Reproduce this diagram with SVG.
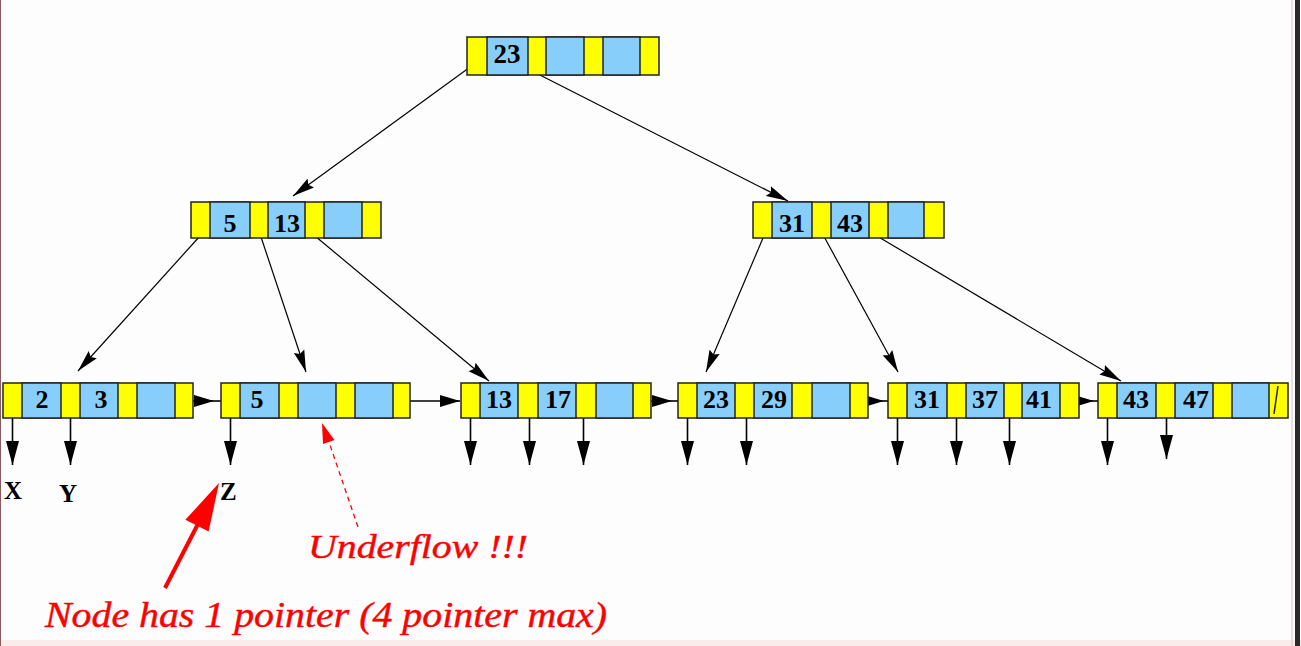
<svg xmlns="http://www.w3.org/2000/svg" width="1301" height="646" viewBox="0 0 1301 646">
<style>
.y{fill:#ffff00;stroke:#222;stroke-width:1.5}
.b{fill:#87cefa;stroke:#222;stroke-width:1.5}
.k{font-family:"Liberation Serif",serif;font-weight:bold;font-size:26px;text-anchor:middle;fill:#000}
.lbl{font-family:"Liberation Serif",serif;font-weight:bold;fill:#000}
.red{font-family:"Liberation Serif",serif;font-style:italic;fill:#ff0000;stroke:#ff0000;stroke-width:0.4}
.e{stroke:#000;stroke-width:1.2;fill:none}
.s{stroke:#000;stroke-width:1.6;fill:none}
</style>
<defs>
<marker id="ah" viewBox="0 0 22 12" refX="22" refY="6" markerWidth="22" markerHeight="12" markerUnits="userSpaceOnUse" orient="auto">
<path d="M0,0.5 L22,6 L0,11.5 L3,6 Z" fill="#000"/>
</marker>
<marker id="ad" viewBox="0 0 24 13" refX="24" refY="6.5" markerWidth="24" markerHeight="13" markerUnits="userSpaceOnUse" orient="auto">
<path d="M0,0 L24,6.5 L0,13 Z" fill="#000"/>
</marker>
<marker id="as" viewBox="0 0 20 14" refX="20" refY="7" markerWidth="20" markerHeight="14" markerUnits="userSpaceOnUse" orient="auto">
<path d="M0,1 L20,7 L0,13 Z" fill="#000"/>
</marker>
</defs>
<rect width="1301" height="646" fill="#fdfdfd"/>
<rect x="0" y="640" width="1301" height="6" fill="#fbecec"/>
<line x1="0.5" y1="0" x2="0.5" y2="646" stroke="#8a5a5a" stroke-width="1"/>
<line x1="1292" y1="0" x2="1292" y2="646" stroke="#d8c4c4" stroke-width="1"/>
<rect x="1295" y="0" width="5" height="646" fill="#2a2a2a"/>

<g id="connectors">
<line class="e" x1="477" y1="62" x2="293" y2="196" marker-end="url(#ah)"/>
<line class="e" x1="534" y1="72" x2="788" y2="201" marker-end="url(#ah)"/>
<line class="e" x1="200" y1="236" x2="78" y2="371" marker-end="url(#ah)"/>
<line class="e" x1="259" y1="231" x2="306" y2="372" marker-end="url(#ah)"/>
<line class="e" x1="315" y1="236" x2="489" y2="381" marker-end="url(#ah)"/>
<line class="e" x1="763" y1="238" x2="706" y2="372" marker-end="url(#ah)"/>
<line class="e" x1="821" y1="231" x2="898" y2="372" marker-end="url(#ah)"/>
<line class="e" x1="877" y1="236" x2="1121" y2="381" marker-end="url(#ah)"/>
<line class="s" x1="184" y1="401" x2="214" y2="401" marker-end="url(#as)"/>
<line class="s" x1="214" y1="401" x2="221" y2="401"/>
<line class="s" x1="402" y1="401" x2="460" y2="401" marker-end="url(#as)"/>
<line class="s" x1="642" y1="401" x2="672" y2="401" marker-end="url(#as)"/>
<line class="s" x1="672" y1="401" x2="678" y2="401"/>
<line class="s" x1="859" y1="401" x2="884" y2="401" marker-end="url(#as)"/>
<line class="s" x1="884" y1="401" x2="888" y2="401"/>
<line class="s" x1="1070" y1="401" x2="1094" y2="401" marker-end="url(#as)"/>
<line class="s" x1="1094" y1="401" x2="1098" y2="401"/>
<g class="s" marker-end="url(#ad)">
<line x1="12.5" y1="401" x2="12.5" y2="465"/>
<line x1="70.5" y1="401" x2="70.5" y2="465"/>
<line x1="230.5" y1="401" x2="230.5" y2="465"/>
<line x1="470.5" y1="401" x2="470.5" y2="465"/>
<line x1="529.5" y1="401" x2="529.5" y2="465"/>
<line x1="583.5" y1="401" x2="583.5" y2="465"/>
<line x1="687.5" y1="401" x2="687.5" y2="465"/>
<line x1="746.5" y1="401" x2="746.5" y2="465"/>
<line x1="897.5" y1="401" x2="897.5" y2="465"/>
<line x1="956.5" y1="401" x2="956.5" y2="465"/>
<line x1="1009.5" y1="401" x2="1009.5" y2="465"/>
<line x1="1107.5" y1="401" x2="1107.5" y2="465"/>
<line x1="1166.5" y1="401" x2="1166.5" y2="459"/>
</g>
<line x1="358" y1="527" x2="330" y2="445" stroke="#ff0000" stroke-width="1.3" stroke-dasharray="5 4"/>
<polygon points="322,423 334.5,440 323,444" fill="#ff0000"/>
<line x1="165" y1="588" x2="199" y2="522" stroke="#ff0000" stroke-width="4"/>
<polygon points="219,483 208.6,531.6 185.4,519.8" fill="#ff0000"/>
</g>

<g id="root" transform="translate(467,37)">
<rect class="y" width="192" height="38"/>
<rect class="b" x="20" width="41" height="38"/>
<rect class="b" x="79" width="38" height="38"/>
<rect class="b" x="136" width="37" height="38"/>
<text class="k" x="40" y="26" style="font-size:27px">23</text>
</g>
<g id="n5_13" transform="translate(191,202)">
<rect class="y" width="190" height="36"/>
<rect class="b" x="19" width="40" height="36"/>
<rect class="b" x="77" width="37" height="36"/>
<rect class="b" x="133" width="38" height="36"/>
<text class="k" x="39" y="30">5</text>
<text class="k" x="96" y="30">13</text>
</g>
<g id="n31_43" transform="translate(753,202)">
<rect class="y" width="191" height="36"/>
<rect class="b" x="19" width="40" height="36"/>
<rect class="b" x="78" width="38" height="36"/>
<rect class="b" x="135" width="36" height="36"/>
<text class="k" x="39" y="30">31</text>
<text class="k" x="97" y="30">43</text>
</g>
<g id="leaf_2_3" transform="translate(3,383)">
<rect class="y" width="190" height="35"/>
<rect class="b" x="19" width="39" height="35"/>
<rect class="b" x="77" width="38" height="35"/>
<rect class="b" x="134" width="38" height="35"/>
<text class="k" x="39" y="25">2</text>
<text class="k" x="98" y="25">3</text>
</g>
<g id="leaf_5" transform="translate(221,383)">
<rect class="y" width="189" height="35"/>
<rect class="b" x="19" width="39" height="35"/>
<rect class="b" x="77" width="38" height="35"/>
<rect class="b" x="134" width="38" height="35"/>
<text class="k" x="36" y="25">5</text>
</g>
<g id="leaf_13_17" transform="translate(461,383)">
<rect class="y" width="190" height="35"/>
<rect class="b" x="19" width="38" height="35"/>
<rect class="b" x="77" width="38" height="35"/>
<rect class="b" x="135" width="37" height="35"/>
<text class="k" x="38" y="25">13</text>
<text class="k" x="97" y="25">17</text>
</g>
<g id="leaf_23_29" transform="translate(678,383)">
<rect class="y" width="190" height="35"/>
<rect class="b" x="19" width="38" height="35"/>
<rect class="b" x="76" width="38" height="35"/>
<rect class="b" x="134" width="38" height="35"/>
<text class="k" x="38" y="25">23</text>
<text class="k" x="96" y="25">29</text>
</g>
<g id="leaf_31_37_41" transform="translate(888,383)">
<rect class="y" width="191" height="35"/>
<rect class="b" x="19" width="40" height="35"/>
<rect class="b" x="78" width="38" height="35"/>
<rect class="b" x="134" width="38" height="35"/>
<text class="k" x="39" y="25">31</text>
<text class="k" x="97" y="25">37</text>
<text class="k" x="151" y="25">41</text>
</g>
<g id="leaf_43_47" transform="translate(1098,383)">
<rect class="y" width="190" height="35"/>
<rect class="b" x="19" width="39" height="35"/>
<rect class="b" x="77" width="38" height="35"/>
<rect class="b" x="134" width="37" height="35"/>
<text class="k" x="38" y="25">43</text>
<text class="k" x="98" y="25">47</text>
<line x1="180" y1="3" x2="176" y2="31" stroke="#222" stroke-width="1.5"/>
</g>

<g id="labels">
<text class="lbl" x="4" y="499" font-size="25">X</text>
<text class="lbl" x="59" y="502" font-size="25">Y</text>
<text class="lbl" x="220" y="500" font-size="25">Z</text>
<text class="red" x="308" y="558" font-size="33" textLength="220" lengthAdjust="spacingAndGlyphs">Underflow !!!</text>
<text class="red" x="45" y="627" font-size="35" textLength="562" lengthAdjust="spacingAndGlyphs">Node has 1 pointer (4 pointer max)</text>
</g>
</svg>
